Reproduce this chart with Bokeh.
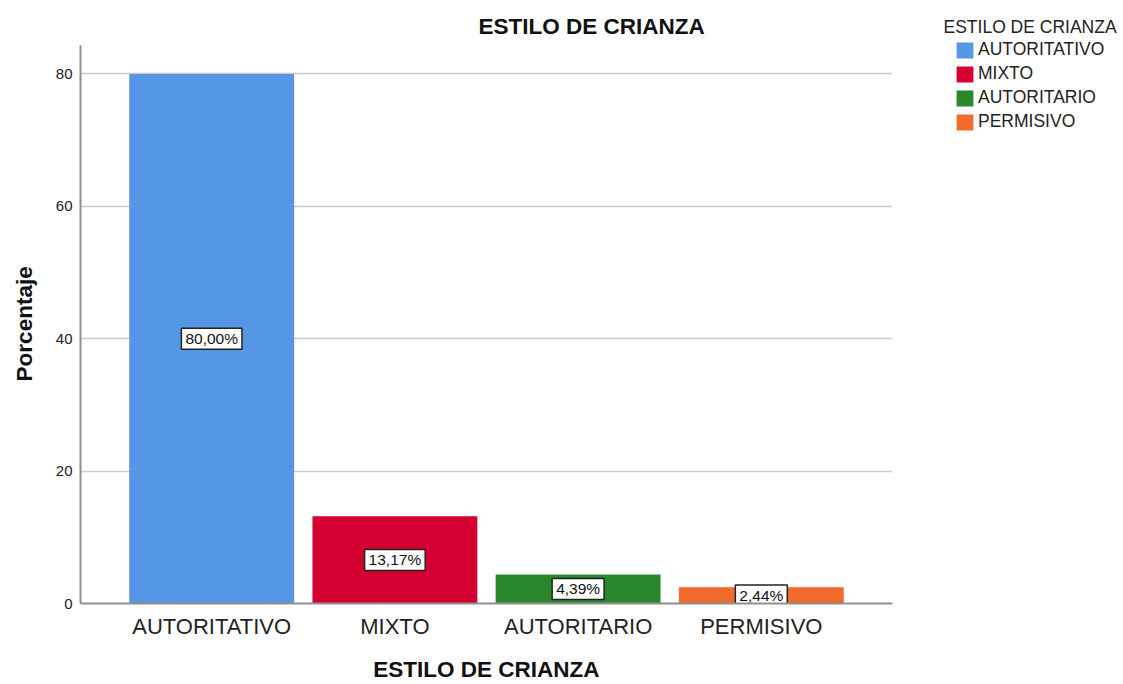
from bokeh.plotting import figure
from bokeh.layouts import row
from bokeh.models import (FactorRange, Range1d, Legend, LegendItem, Label,
                          FixedTicker, ColumnDataSource)
from bokeh.core.properties import value
from bokeh.embed import file_html
from bokeh.resources import INLINE

categories = ["AUTORITATIVO", "MIXTO", "AUTORITARIO", "PERMISIVO"]
percentages = [80.00, 13.17, 4.39, 2.44]
labels = ["80,00%", "13,17%", "4,39%", "2,44%"]
colors = ["#5596e5", "#d50032", "#2a872b", "#f26a2c"]
y_ticks = [0, 20, 40, 60, 80]
title_text = "ESTILO DE CRIANZA"
y_title = "Porcentaje"

FONT = "Liberation Sans"

src = ColumnDataSource(dict(cat=categories, pct=percentages,
                            half=[v / 2 for v in percentages],
                            lab=labels, color=colors))

# ---------------- main chart ----------------
p = figure(width=931, height=684,
           x_range=FactorRange(factors=categories, range_padding=0.216,
                               range_padding_units="absolute"),
           y_range=Range1d(0, 91.1),
           output_backend="svg", toolbar_location=None,
           min_border_left=80, min_border_right=39,
           min_border_top=0, min_border_bottom=77)
p.title.visible = False

bars = p.vbar(x="cat", top="pct", width=0.9, source=src,
              fill_color="color", line_color=None)

p.text(x="cat", y="half", text="lab", source=src,
       text_align="center", text_baseline="middle",
       text_font=value(FONT), text_font_size="15.5px", text_color="#111111",
       background_fill_color="white", border_line_color="#222222",
       border_line_width=1.5, padding=(4, 2))

# chart title (inside the frame area, above the plotted range)
p.add_layout(Label(x=398, y=577, x_units="screen", y_units="screen",
                   text=title_text, text_font=FONT, text_font_size="22.5px",
                   text_font_style="bold", text_color="#111111",
                   text_baseline="middle"))

p.outline_line_color = None
p.background_fill_color = "white"
p.border_fill_color = "white"

for ax in (p.xaxis[0], p.yaxis[0]):
    ax.axis_line_color = "#8f8f8f"
    ax.axis_line_width = 2
    ax.major_tick_line_color = None
    ax.minor_tick_line_color = None
    ax.major_tick_out = 0
    ax.major_tick_in = 0
    ax.minor_tick_out = 0
    ax.minor_tick_in = 0
    ax.major_label_text_font = FONT
    ax.major_label_text_color = "#222222"
    ax.axis_label_text_font = FONT
    ax.axis_label_text_font_style = "bold"
    ax.axis_label_text_font_size = "22.5px"
    ax.axis_label_text_color = "#111111"

p.xaxis.major_label_text_font_size = "22px"
p.xaxis.major_label_standoff = 10
p.xaxis.axis_label = title_text
p.xaxis.axis_label_standoff = 15

p.yaxis.ticker = FixedTicker(ticks=y_ticks)
p.yaxis.bounds = (0, 84.35)
p.yaxis.major_label_text_font_size = "15px"
p.yaxis.major_label_standoff = 8
# trailing no-break spaces re-centre the rotated label on the drawn axis
p.yaxis.axis_label = y_title + "\u00a0" * 7
p.yaxis.axis_label_standoff = 16

p.xgrid.grid_line_color = None
p.ygrid.ticker = FixedTicker(ticks=y_ticks)
p.ygrid.grid_line_color = "#cccccc"
p.ygrid.grid_line_width = 1.5

# ---------------- legend panel ----------------
lg = figure(width=192, height=684,
            x_range=FactorRange(factors=categories),
            y_range=Range1d(-2000, -1000),
            output_backend="svg", toolbar_location=None,
            x_axis_type=None, y_axis_type=None,
            min_border=0, min_border_left=0, min_border_right=0,
            min_border_top=0, min_border_bottom=0)
lg.title.visible = False
lg.outline_line_color = None
lg.xgrid.grid_line_color = None
lg.ygrid.grid_line_color = None
lg.background_fill_color = "white"
lg.border_fill_color = "white"

lg_bars = lg.vbar(x="cat", top="pct", width=0, source=src,
                  fill_color="color", line_color=None)

items = [LegendItem(label=c, renderers=[lg_bars], index=i)
         for i, c in enumerate(categories)]
legend = Legend(items=items, location=(23, 471),
                glyph_width=21, glyph_height=20, label_height=20,
                label_text_font=FONT, label_text_font_size="17.5px",
                label_text_color="#222222", label_standoff=3,
                spacing=3, padding=0, margin=0,
                border_line_color=None, background_fill_alpha=0)
lg.add_layout(legend)

lg.add_layout(Label(x=12, y=576.5, x_units="screen", y_units="screen",
                    text=title_text, text_font=FONT,
                    text_font_size="17.5px", text_color="#222222",
                    text_baseline="middle"))

layout = row(p, lg, spacing=0)

open("out.html", "w").write(file_html(layout, INLINE))
